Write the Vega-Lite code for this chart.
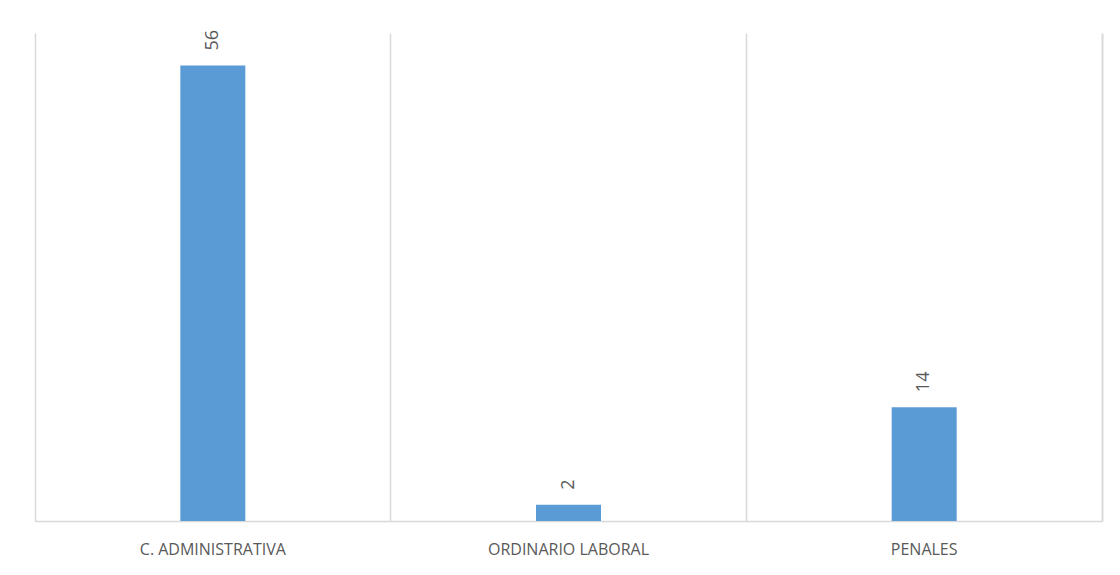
{
  "$schema": "https://vega.github.io/schema/vega-lite/v6.json",
  "width": 1120,
  "height": 575,
  "autosize": {"type": "fit", "contains": "padding"},
  "padding": {"left": 35, "top": 33, "right": 18, "bottom": 18},
  "background": "white",
  "config": {"view": {"stroke": null}},
  "data": {"values": [
    {"categoria": "C. ADMINISTRATIVA", "valor": 56},
    {"categoria": "ORDINARIO LABORAL", "valor": 2},
    {"categoria": "PENALES", "valor": 14}
  ]},
  "encoding": {
    "x": {"field": "categoria", "type": "nominal", "sort": null,
      "scale": {"paddingInner": 0, "paddingOuter": 0},
      "axis": {"title": null, "labelAngle": 0, "labelFont": "Open Sans", "labelFontSize": 16, "labelColor": "#595959",
        "labelPadding": 28, "labelBaseline": "middle", "ticks": false, "domainColor": "#d9d9d9", "domainWidth": 1.5,
        "grid": true, "gridColor": "#d9d9d9", "gridWidth": 1.5, "bandPosition": 0}},
    "y": {"field": "valor", "type": "quantitative", "scale": {"domain": [0, 60], "nice": false},
      "axis": {"orient": "right", "title": null, "domain": true, "labels": false, "ticks": false, "grid": false, "domainColor": "#d9d9d9", "domainWidth": 2}}
  },
  "layer": [
    {"mark": {"type": "bar", "size": 65, "color": "#5B9BD5"}},
    {"mark": {"type": "text", "angle": -90, "align": "left", "baseline": "middle", "dx": 15, "font": "Open Sans", "fontSize": 18, "color": "#595959"},
     "encoding": {"text": {"field": "valor", "type": "quantitative"}}}
  ]
}
